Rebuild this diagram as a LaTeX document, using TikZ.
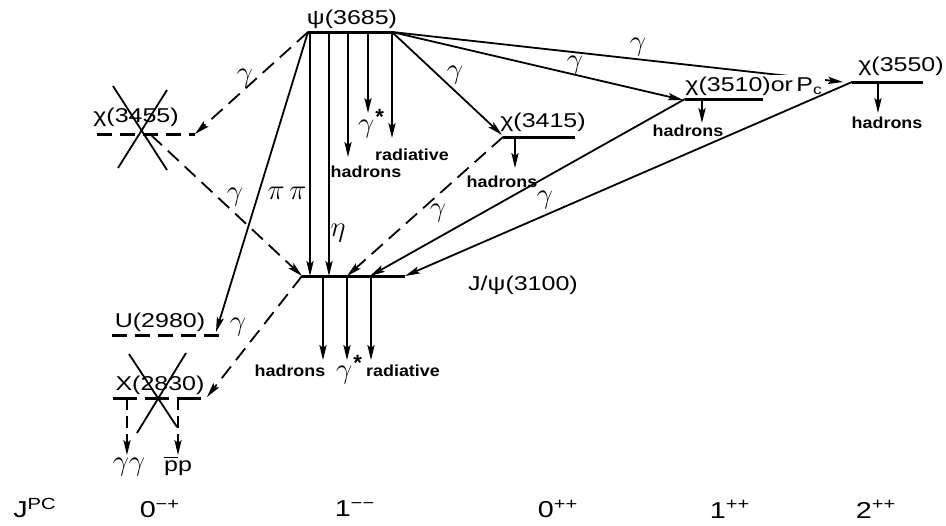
\documentclass[tikz,border=0pt]{standalone}
\usepackage{fontspec}
\setmainfont{Liberation Sans}
\newfontfamily\lvlfont{Liberation Sans}[FakeStretch=1.25]
\newfontfamily\hadfont{Liberation Sans}[FakeStretch=1.12]
\usetikzlibrary{arrows.meta}
\newcommand{\gstar}{$\gamma$\kern0.5pt\raisebox{0.55ex}{\bfseries\fontsize{11}{11}\selectfont *}}
\tikzset{
  arr/.style={line width=0.9pt, -{Stealth[length=7.5pt,width=3.6pt,inset=1.5pt]}},
  darr/.style={arr, dash pattern=on 7.5pt off 4pt},
  lvl/.style={line width=1.5pt},
  dlvl/.style={lvl, dash pattern=on 7.5pt off 4pt},
  crossline/.style={line width=0.9pt},
  nm/.style={font=\lvlfont\fontsize{10}{11}\selectfont, inner sep=0pt},
  had/.style={font=\hadfont\bfseries\fontsize{8}{9}\selectfont, inner sep=0pt},
  gl/.style={font=\fontsize{14}{16}\selectfont, inner sep=0pt},
  jpc/.style={font=\lvlfont\fontsize{11.5}{13}\selectfont, inner sep=0pt},
}
\begin{document}
\begin{tikzpicture}[x=0.5pt,y=-0.5pt]
\useasboundingbox (0,0) rectangle (946,525);
% ---------- level end points ----------
\coordinate (psiL) at (308,32);  \coordinate (psiR) at (392,32);
\coordinate (c55L) at (97,134);  \coordinate (c55R) at (195,134);
\coordinate (c15L) at (503,137); \coordinate (c15R) at (575,137);
\coordinate (c10L) at (685,99);  \coordinate (c10R) at (763,99);
\coordinate (c50L) at (852,82);  \coordinate (c50R) at (923,82);
\coordinate (jL) at (302,276);   \coordinate (jR) at (405,276);
\coordinate (uL) at (112,335);   \coordinate (uR) at (220,335);
\coordinate (xL) at (113,398);   \coordinate (xR) at (208,398);
% ---------- levels ----------
\draw[lvl] (psiL) -- (psiR);
\draw[dlvl] (c55L) -- (c55R);
\draw[lvl] (c15L) -- (c15R);
\draw[lvl] (c10L) -- (c10R);
\draw[lvl] (c50L) -- (c50R);
\draw[lvl] (jL) -- (jR);
\draw[dlvl] (uL) -- (uR);
\draw[lvl, dash pattern=on 12pt off 4pt] (xL) -- (xR);
% ---------- crosses ----------
\coordinate (k1a) at (113,86);  \coordinate (k1b) at (167,170);
\coordinate (k2a) at (167,90);  \coordinate (k2b) at (118,168);
\draw[crossline] (k1a) -- (k1b);
\draw[crossline] (k2a) -- (k2b);
\coordinate (k3a) at (129,354); \coordinate (k3b) at (177,427);
\coordinate (k4a) at (186,353); \coordinate (k4b) at (137,433);
\draw[crossline] (k3a) -- (k3b);
\draw[crossline] (k4a) -- (k4b);
% ---------- level labels ----------
\node[nm] (psiT) at (352,19) {ψ(3685)};
\node[nm] (c55T) at (136,117) {χ(3455)};
\node[nm] (c15T) at (543,122) {χ(3415)};
\node[nm] (c50T) at (901,66) {χ(3550)};
\node[nm] (jT) at (523,285) {J/ψ(3100)};
\node[nm] (uT) at (160,322) {U(2980)};
\node[nm] (xT) at (160,385) {X(2830)};
% ---------- transitions from psi(3685) ----------
\coordinate (p1) at (310,32); \coordinate (p2) at (329,32);
\coordinate (p3) at (348,32); \coordinate (p4) at (368,32);
\coordinate (j1) at (310,276); \coordinate (j2) at (329,276);
\coordinate (e3) at (348,157); \coordinate (e4) at (368,113);
\coordinate (e5) at (392,138);
\coordinate (uTip) at (216,332);
\draw[darr] (psiL) -- (c55R);
\draw[arr] (psiL) -- (uTip);
\draw[arr] (p1) -- (j1);
\draw[arr] (p2) -- (j2);
\draw[arr] (p3) -- (e3);
\draw[arr] (p4) -- (e4);
\draw[arr] (psiR) -- (e5);
\coordinate (c15tip) at (502,135);
\coordinate (c10tip) at (683,100);
\coordinate (c50tip) at (843,82);
\draw[arr] (psiR) -- (c15tip);
\draw[arr] (psiR) -- (c10tip);
\draw[arr] (psiR) -- (c50tip);
\node[nm, fill=white, anchor=west, inner sep=1pt] (c10T) at (683,86) {χ(3510)or\,P\textsubscript{c}};
% labels of psi transitions
\node[gl] (g1) at (245,78) {$\gamma$};
\node[gl] (g2) at (238,327) {$\gamma$};
\node[gl] (pipi) at (287,193) {$\pi\,\pi$};
\node[gl] (eta) at (338,233) {$\eta$};
\node[had] (h1) at (366,172) {hadrons};
\node[gl] (gs1) at (371,124) {\gstar};
\node[had] (r1) at (412,155) {radiative};
\node[gl] (g3) at (455,75) {$\gamma$};
\node[gl] (g4) at (575,65) {$\gamma$};
\node[gl] (g5) at (638,47) {$\gamma$};
% ---------- decays of chi states ----------
\coordinate (c15h) at (515,137); \coordinate (c15he) at (515,168);
\coordinate (c10h) at (702,99);  \coordinate (c10he) at (702,123);
\coordinate (c50h) at (878,82);  \coordinate (c50he) at (878,113);
\draw[arr] (c15h) -- (c15he);
\draw[arr] (c10h) -- (c10he);
\draw[arr] (c50h) -- (c50he);
\node[had] (h2) at (502,182) {hadrons};
\node[had] (h3) at (688,131) {hadrons};
\node[had] (h4) at (887,123) {hadrons};
% ---------- transitions to J/psi ----------
\coordinate (c55s) at (151,135);
\coordinate (jd1) at (347,276); \coordinate (jd2) at (370,276);
\draw[darr] (c55s) -- (jL);
\draw[darr] (c15L) -- (jd1);
\draw[arr] (c10L) -- (jd2);
\draw[arr] (c50L) -- (jR);
\node[gl] (g6) at (235,197) {$\gamma$};
\node[gl] (g7) at (438,213) {$\gamma$};
\node[gl] (g8) at (545,200) {$\gamma$};
% ---------- decays of J/psi ----------
\coordinate (jh1) at (323,276); \coordinate (jh1e) at (323,360);
\coordinate (jh2) at (347,276); \coordinate (jh2e) at (347,360);
\coordinate (jh3) at (371,276); \coordinate (jh3e) at (371,360);
\draw[arr] (jh1) -- (jh1e);
\draw[arr] (jh2) -- (jh2e);
\draw[arr] (jh3) -- (jh3e);
\node[had] (h5) at (290,371) {hadrons};
\node[gl] (gs2) at (349,370) {\gstar};
\node[had] (r2) at (403,371) {radiative};
% ---------- J/psi to X(2830) and its decays ----------
\coordinate (xTip) at (207,397);
\draw[darr] (jL) -- (xTip);
\coordinate (x1) at (127,398); \coordinate (x1e) at (127,455);
\coordinate (x2) at (178,398); \coordinate (x2e) at (178,455);
\draw[darr, dash pattern=on 6pt off 3pt] (x1) -- (x1e);
\draw[darr, dash pattern=on 6pt off 3pt] (x2) -- (x2e);
\node[gl] (gg) at (129,467) {$\gamma\gamma$};
\node[nm] (pp) at (178,466) {$\overline{\mbox{p}}$p};
% ---------- J^PC row ----------
\node[jpc] (jpcT) at (35,508) {J\textsuperscript{PC}};
\node[jpc] (q1) at (160,509) {0\textsuperscript{−+}};
\node[jpc] (q2) at (355,509) {1\textsuperscript{−−}};
\node[jpc] (q3) at (558,509) {0\textsuperscript{++}};
\node[jpc] (q4) at (730,509) {1\textsuperscript{++}};
\node[jpc] (q5) at (876,509) {2\textsuperscript{++}};
\end{tikzpicture}
\end{document}
